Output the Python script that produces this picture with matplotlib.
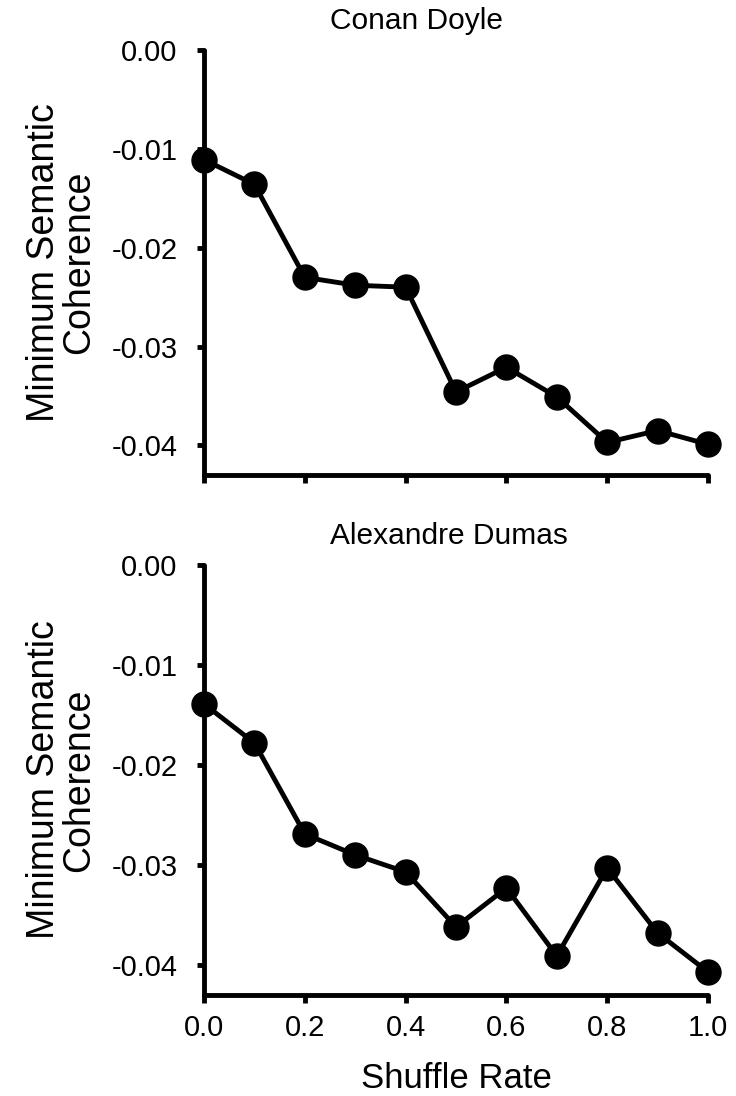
import matplotlib.pyplot as plt

plt.rcParams['font.family'] = ['Liberation Sans', 'DejaVu Sans']

# shuffle rate on x
shuffle_rate = [0.0, 0.1, 0.2, 0.3, 0.4, 0.5, 0.6, 0.7, 0.8, 0.9, 1.0]

# minimum semantic coherence per author
conan_doyle = [-0.0111, -0.0136, -0.0230, -0.0238, -0.0240, -0.0346,
               -0.0321, -0.0351, -0.0397, -0.0385, -0.0399]
alexandre_dumas = [-0.0139, -0.0178, -0.0269, -0.0290, -0.0307, -0.0362,
                   -0.0323, -0.0391, -0.0303, -0.0368, -0.0407]

titles = ["Conan Doyle", "Alexandre Dumas"]
yticks = [0.0, -0.01, -0.02, -0.03, -0.04]
ytick_labels = ["0.00", "-0.01", "-0.02", "-0.03", "-0.04"]
xticks = [0.0, 0.2, 0.4, 0.6, 0.8, 1.0]
xtick_labels = ["0.0", "0.2", "0.4", "0.6", "0.8", "1.0"]

fig = plt.figure(figsize=(7.36, 10.96), dpi=100)
ax1 = fig.add_axes([0.2772, 0.5666, 0.6848, 0.3878])
ax2 = fig.add_axes([0.2772, 0.0922, 0.6848, 0.3923])

for ax, vals, title in zip([ax1, ax2], [conan_doyle, alexandre_dumas], titles):
    ax.plot(shuffle_rate, vals, color='black', lw=3.5, marker='o',
            markersize=18, clip_on=False, zorder=3)
    ax.set_xlim(0, 1.0)
    ax.set_ylim(-0.043, 0.0)
    for s in ['top', 'right']:
        ax.spines[s].set_visible(False)
    for s in ['left', 'bottom']:
        ax.spines[s].set_linewidth(3.5)
        ax.spines[s].set_capstyle('round')
    ax.set_yticks(yticks)
    ax.set_yticklabels(ytick_labels)
    ax.set_xticks(xticks)
    ax.tick_params(axis='y', length=5, width=3.5, pad=14, labelsize=21)
    ax.tick_params(axis='x', length=6, width=3.5, pad=8, labelsize=21)
    ax.set_ylabel("Minimum Semantic\nCoherence", fontsize=27, labelpad=10,
                  linespacing=1.0)
    ax.text(0.25, 0.0015, title, fontsize=21.5, ha='left', va='bottom')

ax1.set_xticklabels([])
ax2.set_xticklabels(xtick_labels)
ax2.set_xlabel("Shuffle Rate", fontsize=25, labelpad=14)

plt.savefig("out.png", dpi=100)
